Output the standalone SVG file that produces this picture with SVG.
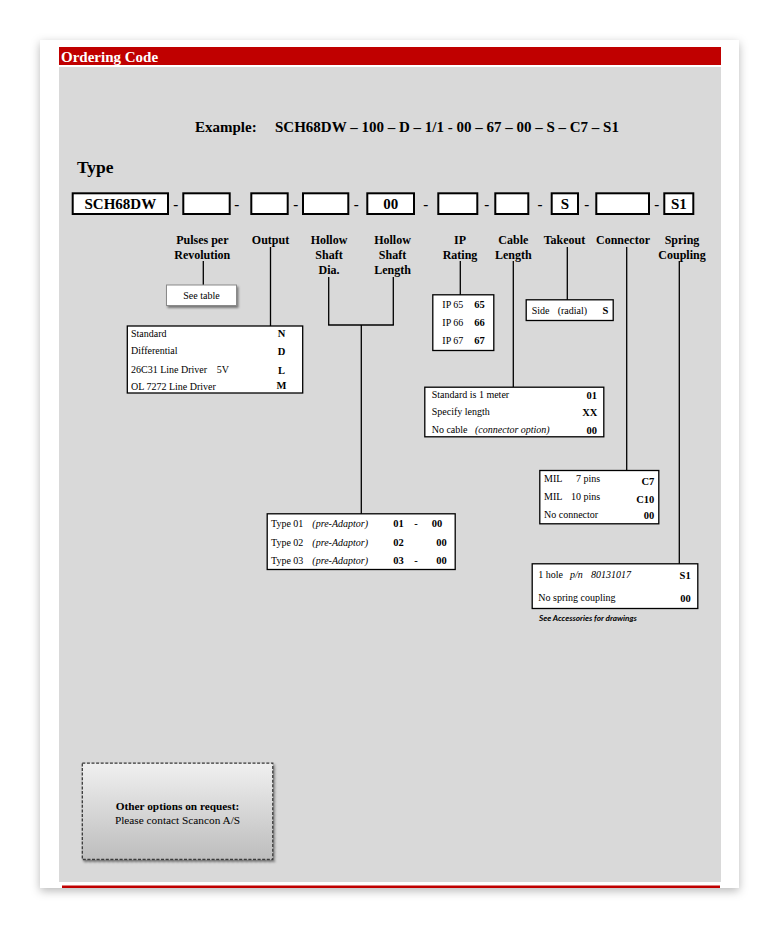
<svg xmlns="http://www.w3.org/2000/svg" width="779" height="928" viewBox="0 0 779 928">
<defs>
<filter id="cardShadow" x="-10%" y="-10%" width="120%" height="120%">
<feDropShadow dx="0" dy="3" stdDeviation="5" flood-color="#000" flood-opacity="0.28"/>
</filter>
<filter id="boxShadow" x="-10%" y="-10%" width="125%" height="130%">
<feDropShadow dx="1.5" dy="2" stdDeviation="1.2" flood-color="#000" flood-opacity="0.45"/>
</filter>
<linearGradient id="optGrad" x1="0" y1="0" x2="0" y2="1">
<stop offset="0" stop-color="#f0f0f0"/>
<stop offset="1" stop-color="#bdbdbd"/>
</linearGradient>
<style>
text{font-family:"Liberation Serif","Times New Roman",serif;fill:#000}
.b{font-weight:bold}
.i{font-style:italic}
.code{fill:#fff;stroke:#000;stroke-width:2}
.tbl{fill:#fff;stroke:#000;stroke-width:1.3}
.lbl{font-size:12px;font-weight:bold;text-anchor:middle}
.big{font-size:15px;font-weight:bold}
.t{font-size:10px}
.c{font-size:10.5px;font-weight:bold}
.conn line{stroke:#000;stroke-width:1.3}
</style>
</defs>

<rect x="40" y="40" width="699" height="848" fill="#fff" filter="url(#cardShadow)"/>
<g id="header">
<rect x="59" y="47" width="662" height="18" fill="#c00000"/>
<text x="61" y="62" font-size="15" class="b" style="fill:#fff">Ordering Code</text>
</g>
<rect x="59" y="67" width="662" height="815" fill="#d9d9d9"/>
<rect x="62" y="885.5" width="658" height="2.5" fill="#c00000"/>

<g id="example">
<text x="195" y="132" class="big">Example:</text>
<text x="275" y="132" class="big">SCH68DW – 100 – D – 1/1 - 00 – 67 – 00 – S – C7 – S1</text>
</g>
<text id="type-title" x="77" y="173" font-size="17.5" class="b">Type</text>

<g id="code-row">
<rect class="code" x="72.7" y="193.3" width="95.3" height="20.7"/>
<text x="120.3" y="209.3" class="big" text-anchor="middle">SCH68DW</text>
<rect class="code" x="183.3" y="193.3" width="46.4" height="20.7"/>
<rect class="code" x="251.3" y="193.3" width="36.4" height="20.7"/>
<rect class="code" x="303" y="193.3" width="45.3" height="20.7"/>
<rect class="code" x="367.3" y="193.3" width="46.7" height="20.7"/>
<text x="390.7" y="209.3" class="big" text-anchor="middle">00</text>
<rect class="code" x="438.3" y="193.3" width="39" height="20.7"/>
<rect class="code" x="495.3" y="193.3" width="33" height="20.7"/>
<rect class="code" x="551.7" y="193.3" width="26.3" height="20.7"/>
<text x="564.9" y="209.3" class="big" text-anchor="middle">S</text>
<rect class="code" x="596.3" y="193.3" width="52.7" height="20.7"/>
<rect class="code" x="664.3" y="193.3" width="29" height="20.7"/>
<text x="678.8" y="209.3" class="big" text-anchor="middle">S1</text>
<g class="big" text-anchor="middle">
<text x="175.7" y="209.3">-</text>
<text x="236.7" y="209.3">-</text>
<text x="295.7" y="209.3">-</text>
<text x="356.3" y="209.3">-</text>
<text x="425.7" y="209.3">-</text>
<text x="486.7" y="209.3">-</text>
<text x="540" y="209.3">-</text>
<text x="586.7" y="209.3">-</text>
<text x="656.7" y="209.3">-</text>
</g>
</g>

<g id="labels">
<text class="lbl" x="202.3" y="244">Pulses per</text>
<text class="lbl" x="202.3" y="258.5">Revolution</text>
<text class="lbl" x="270.5" y="244">Output</text>
<text class="lbl" x="329" y="244">Hollow</text>
<text class="lbl" x="329" y="258.5">Shaft</text>
<text class="lbl" x="329" y="273.5">Dia.</text>
<text class="lbl" x="392.5" y="244">Hollow</text>
<text class="lbl" x="392.5" y="258.5">Shaft</text>
<text class="lbl" x="392.5" y="273.5">Length</text>
<text class="lbl" x="460" y="244">IP</text>
<text class="lbl" x="460" y="258.5">Rating</text>
<text class="lbl" x="513.3" y="244">Cable</text>
<text class="lbl" x="513.3" y="258.5">Length</text>
<text class="lbl" x="564.5" y="244">Takeout</text>
<text class="lbl" x="623" y="244">Connector</text>
<text class="lbl" x="682" y="244">Spring</text>
<text class="lbl" x="682" y="258.5">Coupling</text>
</g>

<g id="connectors" class="conn">
<line x1="203.3" y1="261" x2="203.3" y2="285"/>
<line x1="270.5" y1="247" x2="270.5" y2="326"/>
<line x1="328.7" y1="277" x2="328.7" y2="325"/>
<line x1="393.3" y1="277" x2="393.3" y2="325"/>
<line x1="328.1" y1="325" x2="393.9" y2="325"/>
<line x1="361.3" y1="325" x2="361.3" y2="514"/>
<line x1="460.3" y1="261" x2="460.3" y2="295"/>
<line x1="513.3" y1="261" x2="513.3" y2="387"/>
<line x1="567.3" y1="247" x2="567.3" y2="300"/>
<line x1="626.7" y1="247" x2="626.7" y2="471"/>
<line x1="679.3" y1="261" x2="679.3" y2="564"/>
</g>

<g id="pulses-table">
<rect x="166.5" y="285" width="70" height="20.5" fill="#fff" stroke="#8a8a8a" stroke-width="1" filter="url(#boxShadow)"/>
<text x="201.5" y="298.5" class="t" text-anchor="middle">See table</text>
</g>

<g id="output-table">
<rect class="tbl" x="127.3" y="326" width="175.4" height="67"/>
<text x="131" y="337.3" class="t">Standard</text>
<text x="131" y="354.3" class="t">Differential</text>
<text x="131" y="372.8" class="t">26C31 Line Driver</text>
<text x="216.7" y="372.8" class="t">5V</text>
<text x="131" y="390.3" class="t">OL 7272 Line Driver</text>
<g class="c" text-anchor="middle">
<text x="281.5" y="337">N</text>
<text x="281.5" y="355">D</text>
<text x="281.5" y="373.5">L</text>
<text x="281.5" y="389">M</text>
</g>
</g>

<g id="ip-table">
<rect class="tbl" x="432.8" y="294.8" width="61" height="55.7"/>
<text x="442.3" y="307.8" class="t">IP 65</text>
<text x="442.3" y="326" class="t">IP 66</text>
<text x="442.3" y="344.2" class="t">IP 67</text>
<text x="474.3" y="307.8" class="c">65</text>
<text x="474.3" y="326" class="c">66</text>
<text x="474.3" y="344.2" class="c">67</text>
</g>

<g id="takeout-table">
<rect class="tbl" x="526.2" y="299.8" width="87" height="20.7"/>
<text x="531.7" y="313.5" class="t">Side</text>
<text x="557.7" y="313.5" class="t">(radial)</text>
<text x="605.3" y="314" class="c" text-anchor="middle">S</text>
</g>

<g id="cable-table">
<rect class="tbl" x="424.8" y="387.2" width="179" height="49.6"/>
<text x="431.7" y="397.5" class="t">Standard is 1 meter</text>
<text x="431.7" y="415" class="t">Specify length</text>
<text x="431.7" y="432.5" class="t">No cable</text>
<text x="475" y="432.5" class="t i">(connector option)</text>
<g class="c" text-anchor="end">
<text x="597" y="398.5">01</text>
<text x="597.3" y="416">XX</text>
<text x="597" y="433.5">00</text>
</g>
</g>

<g id="connector-table">
<rect class="tbl" x="539.8" y="470.5" width="119" height="53.3"/>
<text x="544" y="482" class="t">MIL</text>
<text x="576" y="482" class="t">7 pins</text>
<text x="544" y="500" class="t">MIL</text>
<text x="571" y="500" class="t">10 pins</text>
<text x="544" y="518" class="t">No connector</text>
<g class="c" text-anchor="end">
<text x="654.3" y="484.5">C7</text>
<text x="654.3" y="502.5">C10</text>
<text x="654.3" y="518.5">00</text>
</g>
</g>

<g id="type-table">
<rect class="tbl" x="267.2" y="513.8" width="188" height="55.7"/>
<text x="271" y="527" class="t">Type 01</text>
<text x="271" y="546" class="t">Type 02</text>
<text x="271" y="564.3" class="t">Type 03</text>
<text x="312.3" y="527" class="t i">(pre-Adaptor)</text>
<text x="312.3" y="546" class="t i">(pre-Adaptor)</text>
<text x="312.3" y="564.3" class="t i">(pre-Adaptor)</text>
<text x="393.3" y="527" class="c">01</text>
<text x="414.3" y="527" class="c">-</text>
<text x="431.7" y="527" class="c">00</text>
<text x="393.3" y="546" class="c">02</text>
<text x="436.3" y="546" class="c">00</text>
<text x="393.3" y="564.3" class="c">03</text>
<text x="414.3" y="564.3" class="c">-</text>
<text x="436.3" y="564.3" class="c">00</text>
</g>

<g id="spring-table">
<rect class="tbl" x="532.2" y="563.8" width="165.6" height="44.7"/>
<text x="538.3" y="578" class="t">1 hole</text>
<text x="570" y="578" class="t i">p/n</text>
<text x="591" y="578" class="t i">80131017</text>
<text x="538.3" y="601" class="t">No spring coupling</text>
<text x="690.7" y="579" class="c" text-anchor="end">S1</text>
<text x="690.7" y="602" class="c" text-anchor="end">00</text>
<text x="539" y="620.5" font-size="8.2" style="font-family:Lato,'Liberation Sans',sans-serif;font-weight:bold;font-style:italic">See Accessories for drawings</text>
</g>

<g id="other-options">
<rect x="82.3" y="763.2" width="190.5" height="96.3" fill="url(#optGrad)" stroke="#3a3a3a" stroke-width="1.3" stroke-dasharray="3 1.6" filter="url(#boxShadow)"/>
<text x="177.5" y="810" font-size="11.3" class="b" text-anchor="middle">Other options on request:</text>
<text x="177.5" y="824" font-size="11.3" text-anchor="middle">Please contact Scancon A/S</text>
</g>
</svg>
